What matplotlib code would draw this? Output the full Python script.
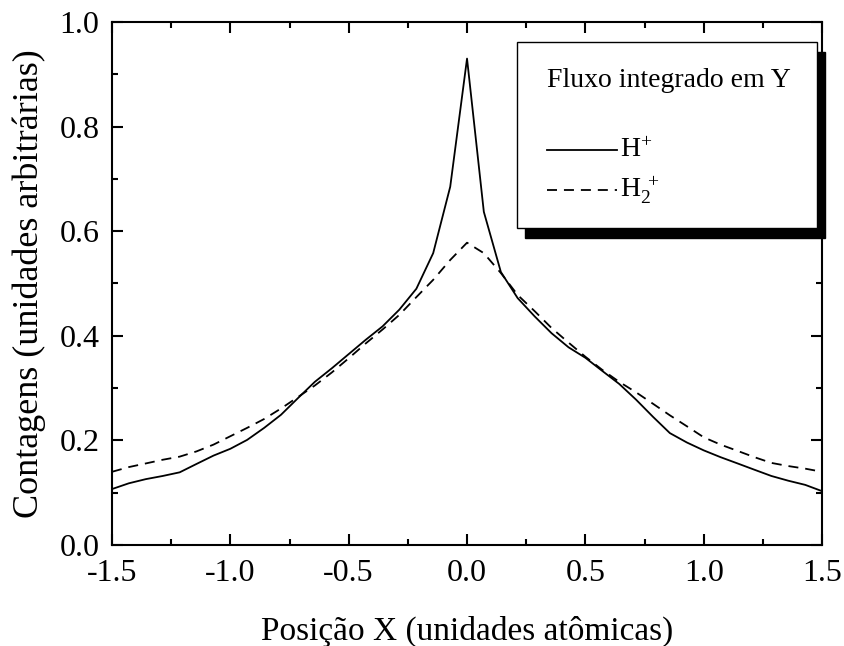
import matplotlib
matplotlib.use('Agg')
import matplotlib.pyplot as plt
from matplotlib.patches import Rectangle
from matplotlib.ticker import MultipleLocator

plt.rcParams['font.family'] = 'Liberation Serif'
plt.rcParams['mathtext.fontset'] = 'custom'
plt.rcParams['mathtext.rm'] = 'Liberation Serif'
plt.rcParams['mathtext.it'] = 'Liberation Serif:italic'
plt.rcParams['lines.scale_dashes'] = False

# posicoes (passo de 1/14 u.a.)
x = [-1.500, -1.429, -1.357, -1.286, -1.214, -1.143, -1.071, -1.000, -0.929, -0.857,
     -0.786, -0.714, -0.643, -0.571, -0.500, -0.429, -0.357, -0.286, -0.214, -0.143,
     -0.071, 0.000, 0.071, 0.143, 0.214, 0.286, 0.357, 0.429, 0.500, 0.571,
     0.643, 0.714, 0.786, 0.857, 0.929, 1.000, 1.071, 1.143, 1.214, 1.286,
     1.357, 1.429, 1.500]

h_plus = [0.107, 0.118, 0.126, 0.132, 0.139, 0.155, 0.171, 0.184, 0.201, 0.224,
          0.249, 0.281, 0.312, 0.338, 0.365, 0.392, 0.418, 0.450, 0.490, 0.558,
          0.685, 0.930, 0.637, 0.522, 0.472, 0.437, 0.405, 0.378, 0.358, 0.333,
          0.308, 0.278, 0.245, 0.214, 0.196, 0.181, 0.168, 0.156, 0.144, 0.132,
          0.123, 0.115, 0.103]

h2_plus = [0.140, 0.149, 0.156, 0.163, 0.169, 0.179, 0.192, 0.208, 0.224, 0.241,
           0.261, 0.283, 0.305, 0.330, 0.357, 0.385, 0.412, 0.440, 0.474, 0.507,
           0.545, 0.578, 0.558, 0.520, 0.478, 0.447, 0.415, 0.387, 0.360, 0.335,
           0.312, 0.292, 0.270, 0.248, 0.227, 0.206, 0.192, 0.180, 0.168, 0.157,
           0.151, 0.146, 0.140]

fig = plt.figure(figsize=(8.44, 6.46), dpi=100)
ax = fig.add_axes([0.1327, 0.1563, 0.8413, 0.8097])

ax.plot(x, h_plus, color='black', lw=1.3)
ax.plot(x, h2_plus, color='black', lw=1.3, dashes=(7.2, 5))

ax.set_xlim(-1.5, 1.5)
ax.set_ylim(0.0, 1.0)
ax.xaxis.set_major_locator(MultipleLocator(0.5))
ax.xaxis.set_minor_locator(MultipleLocator(0.25))
ax.yaxis.set_major_locator(MultipleLocator(0.2))
ax.yaxis.set_minor_locator(MultipleLocator(0.1))
ax.xaxis.set_major_formatter(lambda v, p: f'{v:.1f}')
ax.yaxis.set_major_formatter(lambda v, p: f'{v:.1f}')
ax.tick_params(which='both', direction='in', top=True, right=True, width=1.5)
ax.tick_params(which='major', length=8, labelsize=23)
ax.tick_params(axis='x', which='major', pad=10)
ax.tick_params(axis='y', which='major', pad=9)
ax.tick_params(which='minor', length=4.5)
for s in ax.spines.values():
    s.set_linewidth(1.5)

ax.set_xlabel('Posição X (unidades atômicas)', fontsize=24, labelpad=20)
ax.set_ylabel('Contagens (unidades arbitrárias)', fontsize=26, labelpad=10)

# caixa da legenda com sombra preta
bx, by, bw, bh = 0.570, 0.606, 0.423, 0.356
ax.add_patch(Rectangle((bx + 0.0115, by - 0.019), bw, bh, transform=ax.transAxes,
                       facecolor='black', edgecolor='black', clip_on=False, zorder=4))
ax.add_patch(Rectangle((bx, by), bw, bh, transform=ax.transAxes,
                       facecolor='white', edgecolor='black', lw=1.0, clip_on=False, zorder=5))
ax.text(0.613, 0.889, 'Fluxo integrado em Y', transform=ax.transAxes,
        fontsize=20, va='center', ha='left', zorder=6)
ax.plot([0.613, 0.711], [0.755, 0.755], transform=ax.transAxes, color='black',
        lw=1.3, zorder=6, clip_on=False)
ax.plot([0.613, 0.711], [0.679, 0.679], transform=ax.transAxes, color='black',
        lw=1.3, dashes=(7.2, 5), zorder=6, clip_on=False)
ax.text(0.716, 0.755, r'H$^{+}$', transform=ax.transAxes, fontsize=20,
        va='center', ha='left', zorder=6)
ax.text(0.716, 0.679, r'H$_{2}^{\ +}$', transform=ax.transAxes, fontsize=20,
        va='center', ha='left', zorder=6)

fig.savefig('out.png', dpi=100)
